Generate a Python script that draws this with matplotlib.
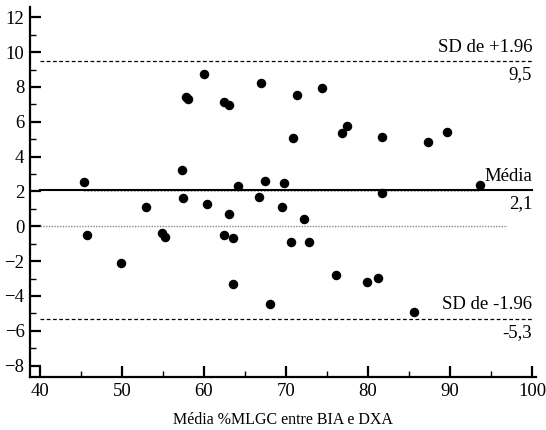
import matplotlib
matplotlib.use("Agg")
import matplotlib.pyplot as plt
from matplotlib.ticker import MultipleLocator

plt.rcParams['font.family'] = ['Liberation Serif', 'DejaVu Serif']

# médias e diferenças
media = [45.4, 45.8, 49.9, 52.9, 54.9, 55.2, 57.3, 57.4, 57.85, 58.1,
         60.05, 60.4, 62.45, 62.4, 63.0, 63.06, 63.5, 63.5, 64.2, 66.7,
         67.0, 67.4, 68.07, 69.5, 69.7, 70.6, 70.8, 71.3, 72.25, 72.8,
         74.45, 76.1, 76.85, 77.46, 79.9, 81.25, 81.73, 81.73, 85.55, 87.35,
         89.6, 93.7]
diferenca = [2.53, -0.5, -2.11, 1.11, -0.37, -0.63, 3.22, 1.64, 7.41, 7.30,
             8.75, 1.3, 7.14, -0.5, 6.99, 0.72, -0.69, -3.3, 2.33, 1.7,
             8.25, 2.62, -4.45, 1.11, 2.5, -0.9, 5.06, 7.55, 0.42, -0.9,
             7.95, -2.82, 5.34, 5.75, -3.22, -2.99, 5.11, 1.93, -4.91, 4.83,
             5.4, 2.36]

media_dif = 2.1
sd_sup = 9.5
sd_inf = -5.3
tendencia = 2.0

fig = plt.figure(figsize=(5.46, 4.30), dpi=100)
ax = fig.add_axes([0.055, 0.123, 0.927, 0.861])

# linhas de referência
ax.plot([40, 97], [0, 0], color='#888888', lw=1, ls=(0, (1, 1)))
ax.plot([min(media), max(media)], [tendencia, tendencia], color='#999999', lw=1.2, ls=(0, (1, 1)))
ax.plot([40, 100], [media_dif, media_dif], color='black', lw=1.5)
ax.plot([40, 100], [sd_sup, sd_sup], color='black', lw=0.9, ls=(0, (3, 2)))
ax.plot([40, 100], [sd_inf, sd_inf], color='black', lw=0.9, ls=(0, (3, 2)))

ax.scatter(media, diferenca, s=34, color='black', zorder=3)

# rótulos das linhas
fs = 13.5
ax.text(100, sd_sup + 0.3, 'SD de +1.96', ha='right', va='bottom', fontsize=fs)
ax.text(100, sd_sup - 0.3, '9,5', ha='right', va='top', fontsize=fs)
ax.text(100, media_dif + 0.3, 'Média', ha='right', va='bottom', fontsize=fs)
ax.text(100, media_dif - 0.3, '2,1', ha='right', va='top', fontsize=fs)
ax.text(100, sd_inf + 0.3, 'SD de -1.96', ha='right', va='bottom', fontsize=fs)
ax.text(100, sd_inf - 0.3, '-5,3', ha='right', va='top', fontsize=fs)

ax.set_xlim(38.8, 100.5)
ax.set_ylim(-8.66, 12.6)
ax.xaxis.set_major_locator(MultipleLocator(10))
ax.xaxis.set_minor_locator(MultipleLocator(5))
ax.yaxis.set_major_locator(MultipleLocator(2))
ax.yaxis.set_minor_locator(MultipleLocator(1))
ax.set_xticks(range(40, 101, 10))
ax.set_yticks(range(-8, 13, 2))

for s in ['top', 'right']:
    ax.spines[s].set_visible(False)
for s in ['left', 'bottom']:
    ax.spines[s].set_linewidth(1.6)

ax.tick_params(which='major', direction='in', length=8, width=1.6, labelsize=13.5, pad=4)
ax.tick_params(which='minor', direction='in', length=4, width=1.0)

ax.set_xlabel('Média %MLGC entre BIA e DXA', fontsize=11.5, labelpad=9)

fig.savefig('out.png', dpi=100)
